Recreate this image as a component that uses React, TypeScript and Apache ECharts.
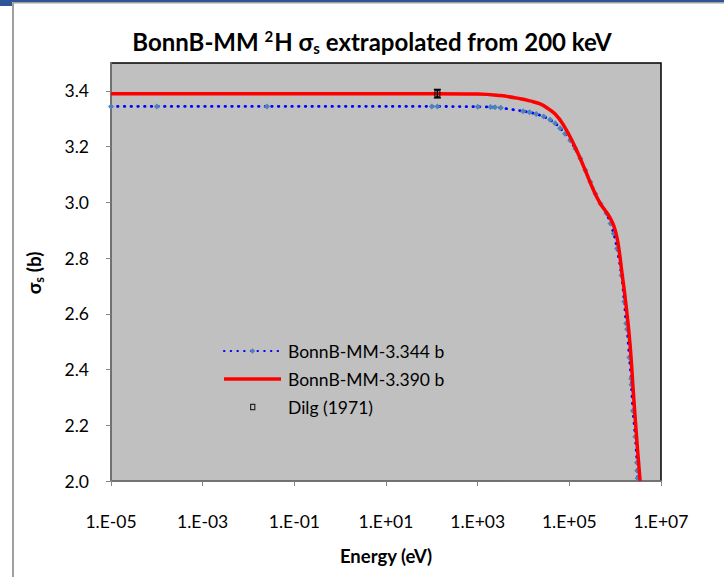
import React, { useEffect, useRef } from "react";
import * as echarts from "echarts";

// BonnB-MM-3.344 b (blue dotted with markers)
const blueEnergy = [1e-5, 1e-4, 0.0253, 100, 132, 1000, 1900, 2400, 3200, 9800, 13500, 19000, 27500, 38000, 49000, 63000, 81000, 105000, 135000, 174000, 224000, 288000, 370000, 480000, 650000, 790000, 930000, 1100000, 1380000, 1580000, 1740000, 1820000, 2040000, 2240000, 2260000, 2450000, 2750000, 3000000, 3020000, 3100000];
const blueSigma = [3.344, 3.344, 3.344, 3.344, 3.344, 3.343, 3.342, 3.341, 3.339, 3.327, 3.323, 3.317, 3.308, 3.296, 3.284, 3.266, 3.246, 3.222, 3.192, 3.157, 3.115, 3.073, 3.031, 2.995, 2.960, 2.924, 2.888, 2.834, 2.738, 2.643, 2.565, 2.545, 2.443, 2.367, 2.345, 2.251, 2.159, 2.066, 2.037, 2.010];

// BonnB-MM-3.390 b (red solid)
const redEnergy = [1e-5, 100, 1000, 3100, 8500, 13800, 23000, 34000, 49000, 73000, 120000, 200000, 330000, 470000, 600000, 770000, 950000, 1100000, 1250000, 1400000, 1650000, 2100000, 2500000, 3000000, 3500000];
const redSigma = [3.39, 3.39, 3.389, 3.383, 3.372, 3.364, 3.353, 3.337, 3.317, 3.28, 3.215, 3.133, 3.047, 2.996, 2.972, 2.945, 2.912, 2.872, 2.815, 2.749, 2.659, 2.495, 2.315, 2.136, 2.0];

// Dilg (1971)
const dilgEnergy = [132];
const dilgSigma = [3.39];
const dilgError = [0.015];

const yTicks = [2.0, 2.2, 2.4, 2.6, 2.8, 3.0, 3.2, 3.4];

const FONT = "Lato";
const TICK_FS = 17.5;

export default function App() {
  const ref = useRef<HTMLDivElement>(null);
  useEffect(() => {
    if (!ref.current) return;
    const chart = echarts.init(ref.current, null, { renderer: "svg" });
    const blueData = blueEnergy.map((e, i) => [e, blueSigma[i]]);
    const redData = redEnergy.map((e, i) => [e, redSigma[i]]);
    const dilgData = dilgEnergy.map((e, i) => [e, dilgSigma[i]]);
    const dilgErr = dilgEnergy.map((e, i) => [e, dilgSigma[i] - dilgError[i], dilgSigma[i] + dilgError[i]]);
    chart.setOption({
      animation: false,
      backgroundColor: "#ffffff",
      grid: {
        left: 111,
        top: 63,
        width: 550,
        height: 418,
        show: true,
        backgroundColor: "#C0C0C0",
        borderColor: "#000000",
        borderWidth: 1.5,
      },
      xAxis: {
        type: "log",
        logBase: 10,
        min: 1e-5,
        max: 1e7,
        interval: 2,
        axisLine: { show: true, lineStyle: { color: "#868686", width: 1.5 } },
        axisTick: { show: true, inside: false, length: 5, lineStyle: { color: "#868686", width: 1 } },
        axisLabel: {
          fontSize: TICK_FS,
          fontFamily: FONT,
          color: "#000",
          margin: 31,
          formatter: (v: number) => {
            const e = Math.round(Math.log10(v));
            return "1.E" + (e < 0 ? "-" : "+") + String(Math.abs(e)).padStart(2, "0");
          },
        },
        splitLine: { show: false },
        minorTick: { show: false },
      },
      yAxis: {
        type: "value",
        min: 2.0,
        max: 3.5,
        interval: 0.2,
        axisLine: { show: true, lineStyle: { color: "#868686", width: 1.5 } },
        axisTick: { show: true, inside: false, length: 5, lineStyle: { color: "#868686", width: 1 } },
        axisLabel: {
          fontSize: TICK_FS,
          fontFamily: FONT,
          color: "#000",
          margin: 22,
          showMaxLabel: false,
          formatter: (v: number) => (yTicks.some((t) => Math.abs(t - v) < 1e-6) ? v.toFixed(1) : ""),
        },
        splitLine: { show: false },
      },
      legend: {
        orient: "vertical",
        left: 223,
        top: 342,
        padding: 0,
        itemWidth: 57,
        itemHeight: 7,
        itemGap: 10,
        selectedMode: false,
        textStyle: { fontSize: TICK_FS, fontFamily: FONT, color: "#000", padding: [0, 0, 0, 2] },
        data: [
          { name: "BonnB-MM-3.344 b" },
          {
            name: "BonnB-MM-3.390 b",
            icon: "path://M0,0 L0.01,0 Z M0,7 L0.01,7 Z M0,1.7 L57,1.7 L57,5.3 L0,5.3 Z",
            itemStyle: { color: "#FF0000", borderWidth: 0 },
          },
          {
            name: "Dilg (1971)",
            icon: "path://M0,0 L0.01,0 Z M57,7 L56.99,7 Z M26,0.3 L31.4,0.3 L31.4,6.7 L26,6.7 Z M27.2,1.5 L27.2,5.5 L30.2,5.5 L30.2,1.5 Z",
            itemStyle: { color: "#000", borderWidth: 0 },
          },
        ],
      },
      series: [
        {
          name: "BonnB-MM-3.344 b",
          type: "line",
          data: blueData,
          smooth: 0.3,
          symbol: "diamond",
          symbolSize: 6,
          showSymbol: true,
          itemStyle: { color: "#4F81BD" },
          lineStyle: { color: "#0000FF", width: 2.8, type: [0.5, 6.2], cap: "round" },
          z: 3,
        },
        {
          name: "BonnB-MM-3.390 b",
          type: "line",
          data: redData,
          smooth: 0.45,
          symbol: "none",
          showSymbol: false,
          itemStyle: { color: "#FF0000" },
          lineStyle: { color: "#FF0000", width: 3.5 },
          z: 4,
        },
        {
          name: "Dilg (1971)",
          type: "scatter",
          data: dilgData,
          symbol: "rect",
          symbolSize: [5, 6],
          itemStyle: { color: "rgba(0,0,0,0)", borderColor: "#000", borderWidth: 1.3 },
          z: 6,
        },
        {
          name: "Dilg error",
          type: "custom",
          data: dilgErr,
          encode: { x: 0, y: [1, 2] },
          z: 5,
          renderItem: (params: any, api: any) => {
            const x = api.value(0);
            const lo = api.coord([x, api.value(1)]);
            const hi = api.coord([x, api.value(2)]);
            const hw = 3.5;
            const st = { stroke: "#000", lineWidth: 1.5 };
            return {
              type: "group",
              children: [
                { type: "line", shape: { x1: lo[0], y1: lo[1], x2: hi[0], y2: hi[1] }, style: st },
                { type: "line", shape: { x1: lo[0] - hw, y1: lo[1], x2: lo[0] + hw, y2: lo[1] }, style: st },
                { type: "line", shape: { x1: hi[0] - hw, y1: hi[1], x2: hi[0] + hw, y2: hi[1] }, style: st },
              ],
            };
          },
        },
      ],
      graphic: [
        { type: "rect", shape: { x: 0, y: 0, width: 724, height: 2 }, style: { fill: "#2E5597" } },
        { type: "rect", shape: { x: 0, y: 0, width: 12, height: 6 }, style: { fill: "#2E5597" } },
        { type: "line", shape: { x1: 13, y1: 2.8, x2: 724, y2: 2.8 }, style: { stroke: "#A0A0A0", lineWidth: 1.5 } },
        { type: "line", shape: { x1: 13, y1: 2.5, x2: 13, y2: 577 }, style: { stroke: "#A0A0A0", lineWidth: 2 } },
        {
          type: "text",
          x: 372,
          y: 41,
          style: {
            text: "{a|BonnB-MM }{sup|2}{a|H σ}{sub|s}{a| extrapolated from 200 keV}",
            align: "center",
            verticalAlign: "middle",
            fill: "#000",
            rich: {
              a: { fontSize: 24, fontWeight: "bold", fontFamily: FONT, lineHeight: 30, verticalAlign: "middle" },
              sup: { fontSize: 15, fontWeight: "bold", fontFamily: FONT, lineHeight: 30, verticalAlign: "top", padding: [2, 1, 0, 0] },
              sub: { fontSize: 15, fontWeight: "bold", fontFamily: FONT, lineHeight: 30, verticalAlign: "bottom", padding: [0, 0, 1, 0] },
            },
          },
        },
        {
          type: "text",
          x: 386,
          y: 556,
          style: {
            text: "Energy (eV)",
            align: "center",
            verticalAlign: "middle",
            fill: "#000",
            fontSize: 18.5,
            fontWeight: "bold",
            fontFamily: FONT,
          },
        },
        {
          type: "text",
          x: 33,
          y: 273,
          rotation: Math.PI / 2,
          style: {
            text: "{a|σ}{sub|s}{a| (b)}",
            align: "center",
            verticalAlign: "middle",
            fill: "#000",
            rich: {
              a: { fontSize: 19, fontWeight: "bold", fontFamily: FONT, lineHeight: 24, verticalAlign: "middle" },
              sub: { fontSize: 13, fontWeight: "bold", fontFamily: FONT, lineHeight: 24, verticalAlign: "bottom" },
            },
          },
        },
      ],
    });
    return () => chart.dispose();
  }, []);
  return (
    <div
      ref={ref}
      style={{ position: "fixed", left: 0, top: 0, width: 724, height: 577, background: "#fff" }}
    />
  );
}
